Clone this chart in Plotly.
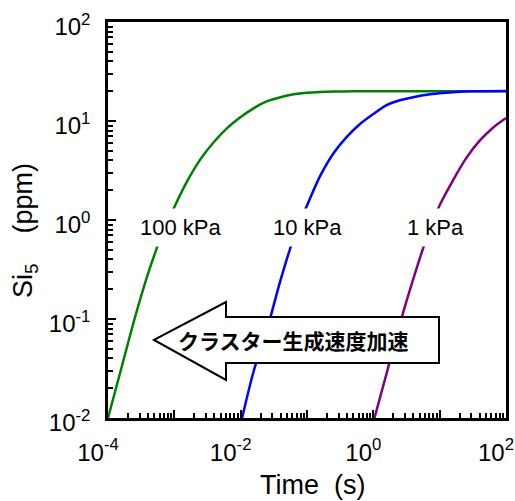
import plotly.graph_objects as go

# ---- data ----
t_100kPa = [1e-4, 1.585e-4, 2.512e-4, 3.981e-4, 6.31e-4, 1e-3, 1.585e-3, 2.512e-3, 3.981e-3,
            6.31e-3, 0.01, 0.01585, 0.02512, 0.03981, 0.0631, 0.1, 0.158, 0.251, 0.5, 1.0, 10.0, 100.0]
si5_100kPa = [0.01, 0.0316, 0.1, 0.282, 0.676, 1.35, 2.51, 4.17, 6.17,
              8.51, 10.96, 13.5, 15.85, 17.4, 18.6, 19.3, 19.65, 19.85, 19.95, 20.0, 20.0, 20.0]

t_10kPa = [0.0105, 0.0158, 0.0251, 0.0398, 0.0631, 0.1, 0.158, 0.251, 0.398, 0.631,
           1.0, 1.585, 2.51, 3.98, 6.31, 10.0, 15.85, 31.6, 100.0]
si5_10kPa = [0.01, 0.0302, 0.0794, 0.245, 0.661, 1.40, 2.79, 4.73, 6.92, 9.33,
             11.75, 14.45, 16.2, 17.4, 18.4, 19.05, 19.5, 19.95, 20.1]

t_1kPa = [1.04, 1.585, 2.512, 3.981, 6.31, 10.0, 15.85, 25.12, 39.81, 63.1, 100.0]
si5_1kPa = [0.01, 0.0282, 0.0891, 0.251, 0.646, 1.41, 2.51, 4.22, 6.31, 8.51, 10.7]

series = [
    ("100 kPa", t_100kPa, si5_100kPa, "#008000"),
    ("10 kPa", t_10kPa, si5_10kPa, "#0000ff"),
    ("1 kPa", t_1kPa, si5_1kPa, "#800080"),
]

x_major = [1e-4, 1e-3, 1e-2, 1e-1, 1e0, 1e1, 1e2]
x_text = ["10<sup>-4</sup>", "", "10<sup>-2</sup>", "", "10<sup>0</sup>", "", "10<sup>2</sup>"]
y_major = [1e-2, 1e-1, 1e0, 1e1, 1e2]
y_text = ["10<sup>-2</sup>", "10<sup>-1</sup>", "10<sup>0</sup>", "10<sup>1</sup>", "10<sup>2</sup>"]

x_minor = [m * 10.0 ** e for e in range(-4, 2) for m in range(2, 10)]
y_minor = [m * 10.0 ** e for e in range(-2, 2) for m in range(2, 10)]

FONT = "Liberation Sans, Arial, sans-serif"
JP = "Noto Sans CJK JP"

fig = go.Figure()
for name, t, y, c in series:
    fig.add_trace(go.Scatter(x=t, y=y, mode="lines", name=name,
                             line=dict(color=c, width=2.5, shape="spline", smoothing=0.8),
                             showlegend=False, hoverinfo="skip"))

axis_common = dict(
    type="log", showline=True, linecolor="black", linewidth=2.5, mirror=True,
    ticks="inside", ticklen=8, tickwidth=2, tickcolor="black", automargin=False,
    showgrid=False, zeroline=False, tickmode="array", ticklabeloverflow="allow",
    tickfont=dict(family=FONT, size=24, color="black"),
)

fig.update_layout(
    width=515, height=501,
    margin=dict(l=108, r=9, t=22, b=83, autoexpand=False),
    paper_bgcolor="white", plot_bgcolor="white",
    xaxis=dict(range=[-4, 2], tickvals=x_major, ticktext=x_text,
               ticklabelstandoff=11, ticklabelshift=-10,
               minor=dict(ticks="inside", ticklen=5, tickwidth=1.5, tickcolor="black",
                          tickmode="array", tickvals=x_minor, showgrid=False),
               **axis_common),
    yaxis=dict(range=[-2, 2], tickvals=y_major, ticktext=y_text,
               ticklabelstandoff=10, ticklabelshift=5,
               minor=dict(ticks="inside", ticklen=5, tickwidth=1.5, tickcolor="black",
                          tickmode="array", tickvals=y_minor, showgrid=False),
               **axis_common),
)

# block arrow (paper coordinates)
fig.add_shape(type="path", xref="paper", yref="paper", layer="above",
              path="M 0.1156 0.197 L 0.2965 0.2929 L 0.2965 0.2551 L 0.8317 0.2551 "
                   "L 0.8317 0.1389 L 0.2965 0.1389 L 0.2965 0.096 Z",
              line=dict(color="black", width=2), fillcolor="white")

annotations = [
    dict(text="<b>クラスター生成速度加速</b>", x=0.467, y=0.197,
         font=dict(family=JP, size=21, color="black")),
    dict(text="100 kPa", x=0.182, y=0.48, bgcolor="white", borderpad=6,
         font=dict(family=FONT, size=22, color="black")),
    dict(text="10 kPa", x=0.5, y=0.48, bgcolor="white", borderpad=6,
         font=dict(family=FONT, size=22, color="black")),
    dict(text="1 kPa", x=0.823, y=0.48, bgcolor="white", borderpad=6,
         font=dict(family=FONT, size=22, color="black")),
    dict(text="Time\u00a0\u00a0(s)", x=0.5126, y=-0.169,
         font=dict(family=FONT, size=27, color="black")),
    dict(text="Si<sub>5</sub>\u00a0\u00a0\u00a0\u00a0(ppm)", x=-0.2085, y=0.472, textangle=-90,
         font=dict(family=FONT, size=27, color="black")),
]
for a in annotations:
    fig.add_annotation(xref="paper", yref="paper", showarrow=False,
                       xanchor="center", yanchor="middle", **a)

fig.write_html("out.html")
